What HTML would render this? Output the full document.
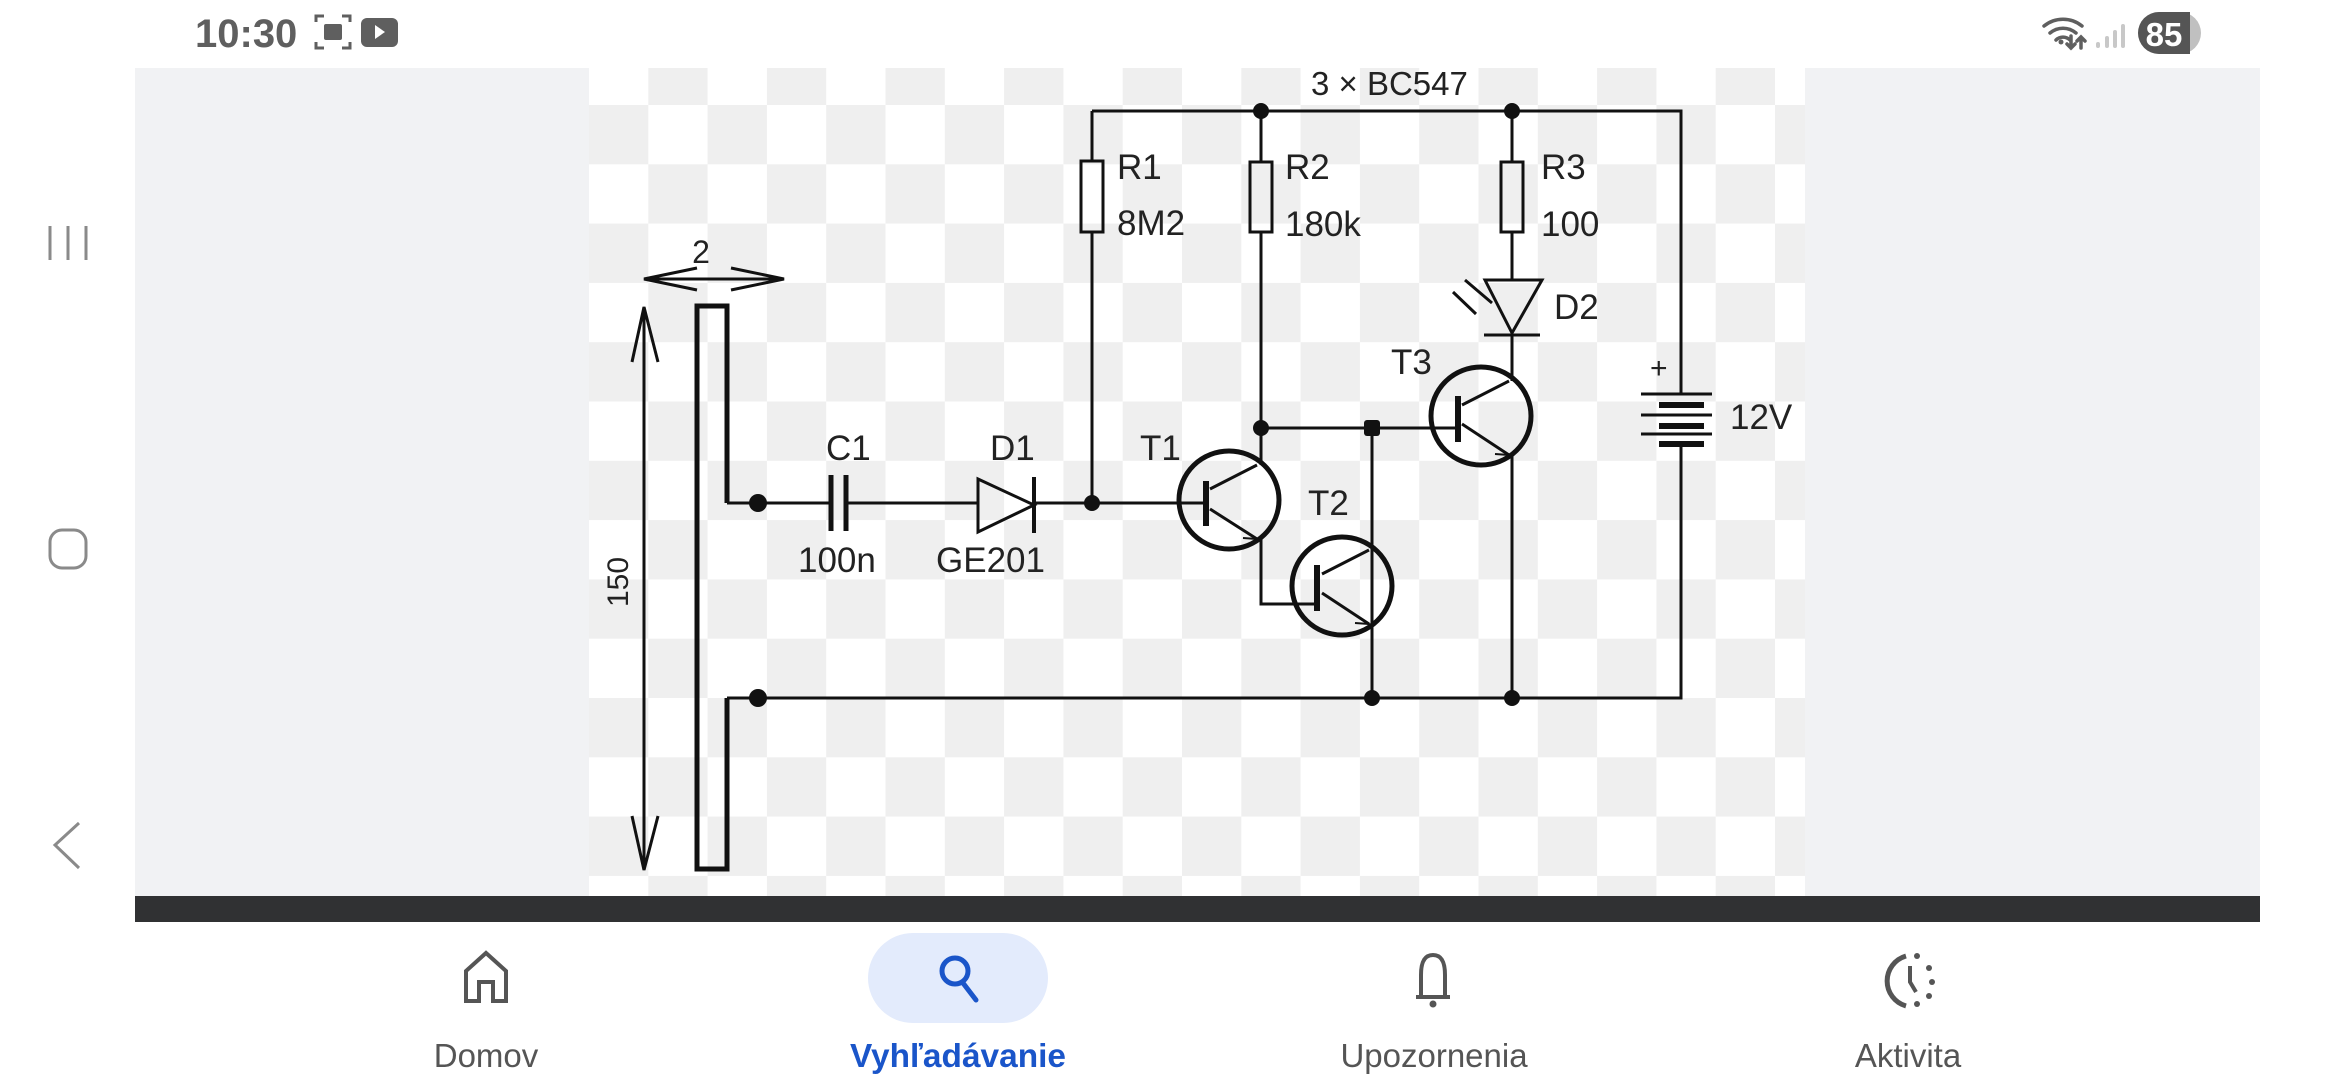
<!DOCTYPE html>
<html><head><meta charset="utf-8"><style>
html,body{margin:0;padding:0;background:#fff;width:2340px;height:1080px;overflow:hidden}
svg{display:block}
text{font-family:"Liberation Sans",sans-serif}
</style></head><body>
<svg width="2340" height="1080" viewBox="0 0 2340 1080" xmlns="http://www.w3.org/2000/svg">
<defs>
<pattern id="chk" x="589" y="45.7" width="118.6" height="118.6" patternUnits="userSpaceOnUse">
<rect width="118.6" height="118.6" fill="#ffffff"/>
<rect x="59.3" y="0" width="59.3" height="59.3" fill="#efefef"/>
<rect x="0" y="59.3" width="59.3" height="59.3" fill="#efefef"/>
</pattern>
</defs>
<rect width="2340" height="1080" fill="#fff"/>
<!-- status bar -->
<text x="195" y="47" font-size="40" fill="#5f5f5f" font-weight="bold">10:30</text>
<g fill="none" stroke="#5f5f5f" stroke-width="3">
<path d="M316 22v-6h8M342 16h8v6M316 42v6h8M342 48h8v-6"/>
</g>
<rect x="324" y="24" width="18" height="16" rx="2" fill="#5f5f5f"/>
<rect x="361" y="18" width="37" height="29" rx="6" fill="#5f5f5f"/>
<path d="M375 25l10 7-10 7z" fill="#fff"/>
<g fill="none" stroke="#5f5f5f" stroke-width="3.5" stroke-linecap="round">
<path d="M2044 26a30 30 0 0 1 38 0M2050 33a20 20 0 0 1 26 0M2056 40a10 10 0 0 1 14 0"/>
<path d="M2071 36v12M2067 44l4 4 4-4M2081 48v-11M2077 41l4-4 4 4"/>
</g>
<circle cx="2061" cy="42" r="2.5" fill="#5f5f5f"/>
<g stroke="#c8c8c8" stroke-width="4" stroke-linecap="round"><path d="M2098 46v-2M2107 46v-8M2115 46v-14M2123 46v-20"/></g>
<rect x="2138" y="12" width="63" height="42" rx="21" fill="#c0c0c0"/>
<path d="M2159 12h31v42h-31a21 21 0 0 1 0-42z" fill="#555"/>
<text x="2164" y="46" font-size="33" font-weight="bold" fill="#fff" text-anchor="middle">85</text>
<!-- left nav -->
<g stroke="#8a8a8a" stroke-width="3" fill="none">
<path d="M50 226v34M68 226v34M86 226v34"/>
<rect x="50" y="530" width="36" height="38" rx="12"/>
<path d="M79 823l-24 22 24 23"/>
</g>
<!-- panel -->
<rect x="135" y="68" width="2125" height="828" fill="#f1f2f4"/>
<rect x="589" y="68" width="1216" height="828" fill="url(#chk)"/>
<rect x="135" y="896" width="2125" height="26" fill="#303133"/>
<!-- circuit -->
<g stroke="#111" stroke-width="3" fill="none">
<path d="M1092 111H1681V394M1681 444V698H727"/>
<path d="M1092 111V160M1092 232V503"/>
<rect x="1081" y="161" width="22" height="71"/>
<path d="M1261 111V162M1261 232V465"/>
<rect x="1250" y="162" width="22" height="70"/>
<path d="M1512 111V162M1512 232V280M1512 335V381"/>
<rect x="1501" y="162" width="22" height="70"/>
<path d="M1485 280H1542L1512 333Z"/>
<path d="M1484 335H1540"/>
<path d="M1476 314L1453 292M1492 303L1465 280"/>
<path d="M1372 428H1458M1462 405L1509 381M1462 424L1509 455M1512 455V698"/>
<path d="M1261 428H1372V698"/>
<path d="M1092 503H1206M1210 489L1257 465M1210 509L1257 539M1261 539V604H1317"/>
<path d="M1322 574L1369 550M1322 593L1369 624"/>
<path d="M727 503H831M846 503H978M1034 503H1092"/>
<path d="M978 479L1034 505L978 532Z"/>
<path d="M644 307V870M632 362L644 307L658 362M632 816L644 870L658 816"/>
<path d="M644 279H784M697 268L644 279L697 290M731 268L784 279L731 290"/>
</g>
<g stroke="#111" fill="none">
<path d="M1034 477V533" stroke-width="4"/>
<path d="M831 475V531M846 475V531" stroke-width="5"/>
<ellipse cx="1481" cy="416" rx="50" ry="49" stroke-width="5"/>
<ellipse cx="1229" cy="500" rx="50" ry="49" stroke-width="5"/>
<ellipse cx="1342" cy="586" rx="50" ry="49" stroke-width="5"/>
<path d="M1458 396V442M1206 481V526M1317 565V611" stroke-width="6"/>
<path d="M1641 394H1712M1641 415H1712M1641 434H1712" stroke-width="3"/>
<path d="M1659 405H1704M1659 426H1704M1659 444H1704" stroke-width="6"/>
<path d="M727 503V306H697V869H727V698" stroke-width="5"/>
</g>
<g stroke="#111" stroke-width="2" fill="none">
<path d="M1497 447L1509 455L1495 454M1245 531L1257 539L1243 538M1357 616L1369 624L1355 623"/>
</g>
<g fill="#111">
<circle cx="1261" cy="111" r="8"/><circle cx="1512" cy="111" r="8"/>
<circle cx="1261" cy="428" r="8"/><rect x="1364" y="420" width="16" height="16" rx="3"/>
<circle cx="1092" cy="503" r="8"/><circle cx="758" cy="503" r="9"/>
<circle cx="758" cy="698" r="9"/><circle cx="1372" cy="698" r="8"/><circle cx="1512" cy="698" r="8"/>
</g>
<g font-size="35" fill="#222">
<text x="1311" y="95" font-size="33">3 × BC547</text>
<text x="1117" y="179">R1</text><text x="1117" y="235">8M2</text>
<text x="1285" y="179">R2</text><text x="1285" y="236">180k</text>
<text x="1541" y="179">R3</text><text x="1541" y="236">100</text>
<text x="1554" y="319">D2</text>
<text x="1391" y="374">T3</text>
<text x="1308" y="515">T2</text>
<text x="1140" y="460">T1</text>
<text x="826" y="460">C1</text>
<text x="990" y="460">D1</text>
<text x="798" y="572">100n</text>
<text x="936" y="572">GE201</text>
<text x="1650" y="378" font-size="30">+</text>
<text x="1730" y="429">12V</text>
<text x="701" y="263" text-anchor="middle" font-size="32">2</text>
<text transform="translate(628,582) rotate(-90)" text-anchor="middle" font-size="30">150</text>
</g>
<!-- bottom nav -->
<rect x="868" y="933" width="180" height="90" rx="45" fill="#e3ebfc"/>
<g fill="none" stroke="#555" stroke-width="4">
<path d="M466 1001V971L486 953L506 971V1001H493V982H479V1001Z"/>
<path d="M1433 955c-11 0-12 12-12 20v22h24v-22c0-8-1-20-12-20z"/>
<path d="M1416 997h34"/>
<path d="M1906 956a26 26 0 0 0 0 50" stroke-width="5"/>
<path d="M1910 966v16l6 10"/>
</g>
<circle cx="1433" cy="1004" r="3.5" fill="#555"/>
<g fill="#555"><circle cx="1917" cy="956" r="3"/><circle cx="1929" cy="968" r="3"/><circle cx="1932" cy="982" r="3"/><circle cx="1929" cy="996" r="3"/><circle cx="1917" cy="1004" r="3"/></g>
<g fill="none" stroke="#1a55c9" stroke-width="5" stroke-linecap="round">
<circle cx="955" cy="971" r="13"/><path d="M963 983L976 1000"/>
</g>
<g font-size="33" text-anchor="middle">
<text x="486" y="1067" fill="#555">Domov</text>
<text x="958" y="1067" fill="#1a55c9" font-weight="bold" textLength="216" lengthAdjust="spacingAndGlyphs">Vyhľadávanie</text>
<text x="1434" y="1067" fill="#555">Upozornenia</text>
<text x="1908" y="1067" fill="#555">Aktivita</text>
</g>
</svg>
</body></html>
